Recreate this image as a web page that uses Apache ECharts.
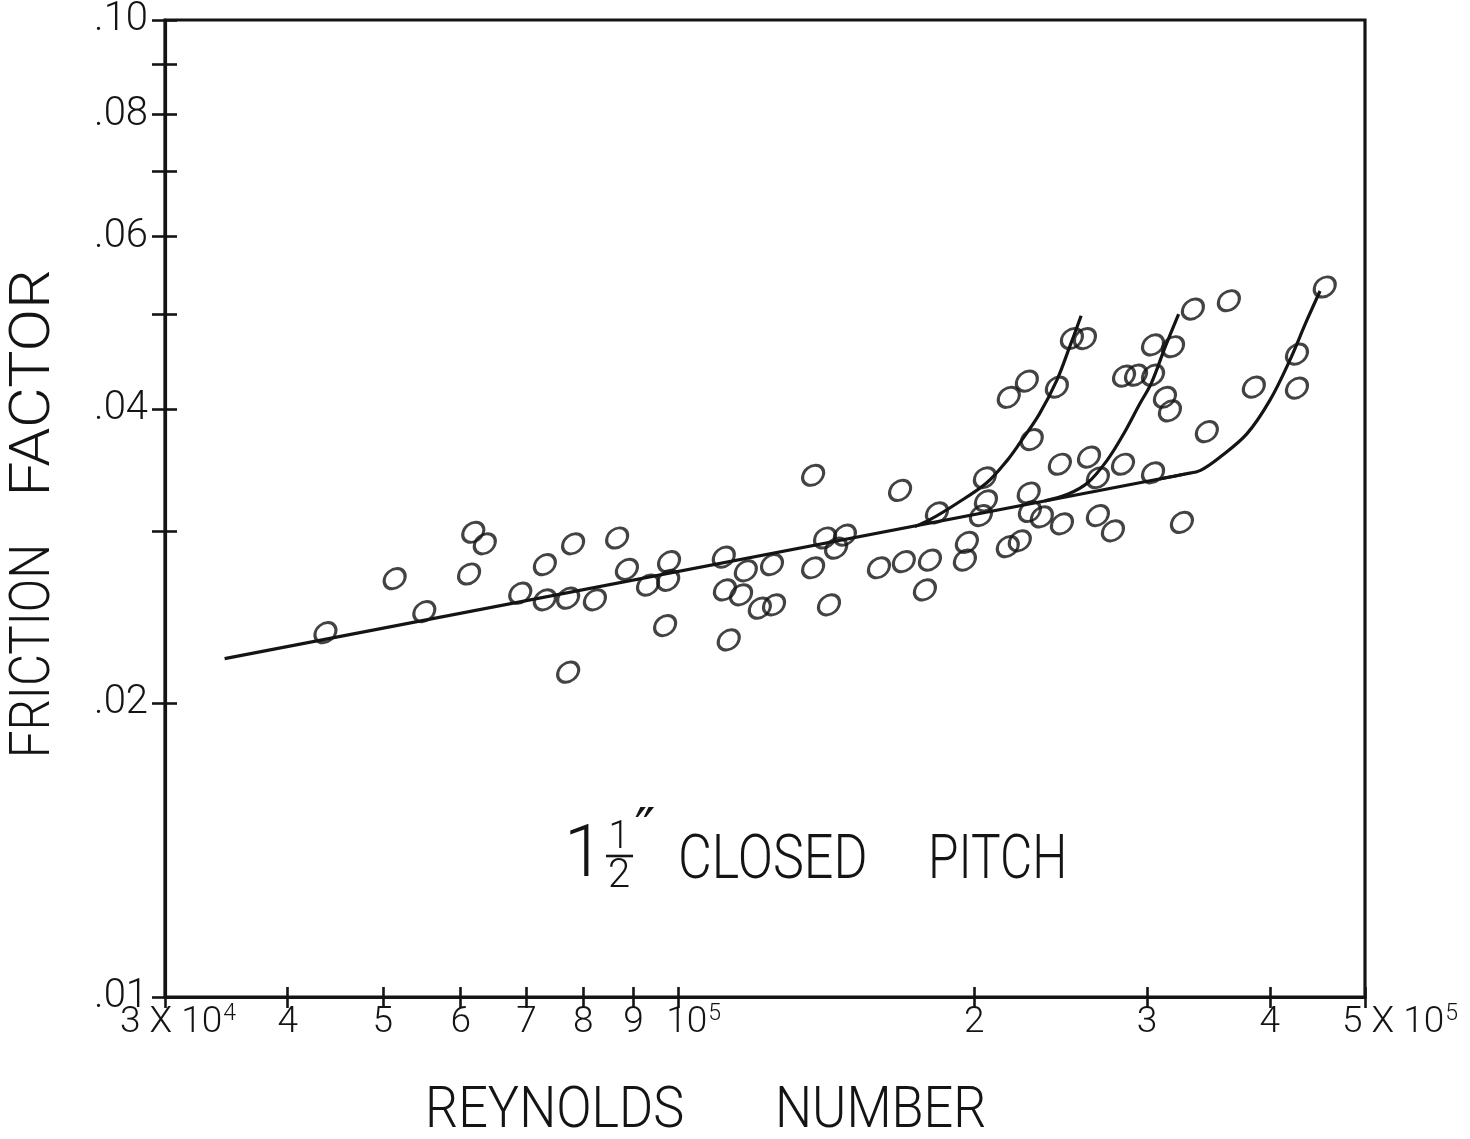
<!DOCTYPE html>
<html><head><meta charset="utf-8">
<script src="https://cdn.jsdelivr.net/npm/echarts@6/dist/echarts.min.js"></script>
<style>html,body{margin:0;padding:0;background:#fff}#c{width:1470px;height:1139px}</style>
</head><body><div id="c"></div>
<script>
// ---- measured points (Reynolds number, friction factor) ----
const reynolds = [43700,51400,55100,61200,61800,63500,69000,73100,78100,73100,77200,82200,77200,86600,88600,97800,93100,97600,96900,
  111200,117100,124500,111500,115800,121000,125100,112500,137100,141000,147700,144700,137100,142300,168100,160000,169600,180300,178200,
  196600,195700,183300,205100,251500,259300,226300,216900,242800,228900,205600,203200,227300,244500,261800,283500,267300,227900,234400,
  245700,267300,276900,216400,222600,284200,292300,304200,304200,318800,312800,316500,455000,363400,334000,385300,426300,426300,345100,
  304200,325500];
const friction = [0.0236,0.0268,0.0248,0.0271,0.0299,0.0291,0.0259,0.0277,0.0291,0.0255,0.0256,0.0255,0.0215,0.0295,0.0274,0.0279,0.0264,0.0267,0.0240,
  0.0282,0.0273,0.0277,0.0261,0.0258,0.0250,0.0252,0.0232,0.0342,0.0295,0.0297,0.0288,0.0275,0.0252,0.0330,0.0275,0.0279,0.0280,0.0261,
  0.0292,0.0280,0.0313,0.0340,0.0472,0.0472,0.0427,0.0411,0.0421,0.0372,0.0322,0.0311,0.0328,0.0351,0.0357,0.0351,0.0340,0.0314,0.0310,
  0.0305,0.0311,0.0300,0.0289,0.0293,0.0432,0.0433,0.0433,0.0465,0.0463,0.0411,0.0398,0.0533,0.0516,0.0506,0.0421,0.0455,0.0420,0.0379,
  0.0344,0.0306];

// ---- drawn curves ----
const mainLineRe = [34500, 328000];
const mainLineF  = [0.0222, 0.0343];
const branch1Re = [174000,180300,192000,206000,216000,222600,233000,242800,250000,257000];
const branch1F  = [0.0303,0.0308,0.0320,0.0336,0.0354,0.0369,0.0395,0.0428,0.0462,0.0498];
const branch2Re = [236000,249000,261000,273000,283500,295000,303000,312800,323000];
const branch2F  = [0.0322,0.0327,0.0336,0.0354,0.0376,0.0405,0.0425,0.0462,0.0500];
const branch3Re = [309000,328000,340000,356000,379000,400000,419000,436000,450000];
const branch3F  = [0.0339,0.0343,0.0346,0.0357,0.0377,0.0408,0.0448,0.0492,0.0528];

// ---- axes ----
const xTicks = [30000,40000,50000,60000,70000,80000,90000,100000,200000,300000,400000,500000];
const xTickBase = ['3 X 10','4','5','6','7','8','9','10','2','3','4','5 X 10'];
const xTickExp  = ['4','','','','','','','5','','','','5'];
const yTicks = [0.01,0.02,0.03,0.04,0.05,0.06,0.07,0.08,0.09,0.10];
const yLabelValues = [0.01,0.02,0.04,0.06,0.08,0.10];
const yLabelTexts = ['.01','.02','.04','.06','.08','.10'];

const FONT = 'Roboto, "DejaVu Sans", sans-serif';
const INK = '#141414';
const L = Math.log10;

function nearestIdx(arr, v) {
  let best = 0, bd = Infinity;
  arr.forEach((a, i) => { const d = Math.abs(L(a) - v); if (d < bd) { bd = d; best = i; } });
  return best;
}
// left padding (px) that nudges a few long labels to the right, as in the drawing
const xPad = {0: 26, 7: 30, 11: 70};
function xFormatter(v) {
  const i = nearestIdx(xTicks, v);
  const pad = xPad[i] ? 'p' + xPad[i] : 'n';
  let s = '{' + pad + '|' + xTickBase[i] + '}';
  if (xTickExp[i]) s += '{sup|' + xTickExp[i] + '}';
  return s;
}
const labelFontBase = {fontSize: 37, fontFamily: FONT, fontWeight: 300, color: INK, lineHeight: 40};
const xRich = {n: Object.assign({}, labelFontBase),
  sup: {fontSize: 23, fontFamily: FONT, fontWeight: 300, color: INK, verticalAlign: 'top', lineHeight: 40, padding: [0, 0, 14, 1]}};
Object.keys(xPad).forEach(k => {
  xRich['p' + xPad[k]] = Object.assign({padding: [0, 0, 0, xPad[k]]}, labelFontBase);
});

const scatterData = reynolds.map((r, i) => [L(r), L(friction[i])]);
const toXY = (re, f) => re.map((r, i) => [L(r), L(f[i])]);

const ellipse = 'path://M0,8 A11,8 0 1,1 22,8 A11,8 0 1,1 0,8 Z';

const lineStyle = {color: INK, width: 3.2};
function curve(name, re, f, smooth) {
  return {name, type: 'line', data: toXY(re, f), showSymbol: false, smooth: smooth,
    lineStyle: lineStyle, z: 2, silent: true};
}

const xMin = L(30000), xMax = L(500000);
const axisLineStyle = {color: INK, width: 3.2};
const lastX = xTicks.length - 1;
const labelCommon = {fontSize: 37, fontFamily: FONT, fontWeight: 300, color: INK, formatter: xFormatter, rich: xRich, margin: 6};

const option = {
  animation: false,
  backgroundColor: '#ffffff',
  grid: {left: 165, right: 105, top: 19, bottom: 142, show: true, borderColor: INK, borderWidth: 3.2, backgroundColor: 'transparent'},
  xAxis: [{
    type: 'value', min: xMin, max: xMax, position: 'bottom',
    axisLine: {show: true, lineStyle: axisLineStyle},
    axisTick: {show: true, inside: false, length: 11, lineStyle: {color: INK, width: 2.6}, customValues: xTicks.map(L)},
    axisLabel: Object.assign({show: true, customValues: xTicks.slice(0, lastX).map(L), showMinLabel: true, showMaxLabel: true}, labelCommon),
    splitLine: {show: false}
  }, {
    type: 'value', min: xMin, max: xMax, position: 'bottom', offset: 0,
    axisLine: {show: false},
    axisTick: {show: true, inside: true, length: 10, lineStyle: {color: INK, width: 2.6}, customValues: xTicks.map(L)},
    axisLabel: Object.assign({show: true, customValues: [L(xTicks[lastX])], showMinLabel: true, showMaxLabel: true}, labelCommon),
    splitLine: {show: false}
  }],
  yAxis: [{
    type: 'value', min: -2, max: -1, position: 'left',
    axisLine: {show: true, lineStyle: axisLineStyle},
    axisTick: {show: true, inside: false, length: 13, lineStyle: {color: INK, width: 2.6}, customValues: yTicks.map(L)},
    axisLabel: {show: true, customValues: yLabelValues.map(L), formatter: v => yLabelTexts[nearestIdx(yLabelValues, v)],
      margin: 17, showMinLabel: true, showMaxLabel: true, fontSize: 40, fontFamily: FONT, fontWeight: 300, color: INK},
    splitLine: {show: false}
  }, {
    type: 'value', min: -2, max: -1, position: 'left', offset: 0,
    axisLine: {show: false},
    axisTick: {show: true, inside: true, length: 12, lineStyle: {color: INK, width: 2.6}, customValues: yTicks.map(L)},
    axisLabel: {show: false}, splitLine: {show: false}
  }],
  series: [
    curve('main', mainLineRe, mainLineF, false),
    curve('branch1', branch1Re, branch1F, 0.35),
    curve('branch2', branch2Re, branch2F, 0.35),
    curve('branch3', branch3Re, branch3F, 0.35),
    {
      name: 'data', type: 'scatter', data: scatterData, symbol: ellipse, symbolSize: [23, 18], symbolRotate: 40,
      itemStyle: {color: 'rgba(0,0,0,0)', borderColor: INK, borderWidth: 3}, z: 3, silent: true
    }
  ],
  graphic: [
    // y-axis title
    {type: 'text', x: 35, y: 651, rotation: Math.PI / 2, scaleX: 0.88,
      style: {text: 'FRICTION', font: '300 56px ' + FONT, fill: INK, textAlign: 'center', textVerticalAlign: 'middle'}},
    {type: 'text', x: 35, y: 383, rotation: Math.PI / 2, scaleX: 1.12,
      style: {text: 'FACTOR', font: '300 56px ' + FONT, fill: INK, textAlign: 'center', textVerticalAlign: 'middle'}},
    // x-axis title
    {type: 'text', x: 425, y: 1112, scaleX: 0.9,
      style: {text: 'REYNOLDS', font: '300 58px ' + FONT, fill: INK, textAlign: 'left', textVerticalAlign: 'middle'}},
    {type: 'text', x: 775, y: 1112, scaleX: 0.9,
      style: {text: 'NUMBER', font: '300 58px ' + FONT, fill: INK, textAlign: 'left', textVerticalAlign: 'middle'}},
    // in-plot label: 1 1/2" CLOSED PITCH
    {type: 'text', x: 584, y: 858,
      style: {text: '1', font: '300 72px ' + FONT, fill: INK, textAlign: 'center', textVerticalAlign: 'middle'}},
    {type: 'text', x: 619, y: 838,
      style: {text: '1', font: '300 38px ' + FONT, fill: INK, textAlign: 'center', textVerticalAlign: 'middle'}},
    {type: 'line', shape: {x1: 606, y1: 856, x2: 633, y2: 856}, style: {stroke: INK, lineWidth: 2.6}},
    {type: 'text', x: 619, y: 877,
      style: {text: '2', font: '300 40px ' + FONT, fill: INK, textAlign: 'center', textVerticalAlign: 'middle'}},
    {type: 'text', x: 645, y: 832,
      style: {text: '″', font: '56px "DejaVu Sans", sans-serif', fill: INK, textAlign: 'center', textVerticalAlign: 'middle'}},
    {type: 'text', x: 678, y: 862, scaleX: 0.84,
      style: {text: 'CLOSED', font: '300 62px ' + FONT, fill: INK, textAlign: 'left', textVerticalAlign: 'middle'}},
    {type: 'text', x: 928, y: 862, scaleX: 0.8,
      style: {text: 'PITCH', font: '300 62px ' + FONT, fill: INK, textAlign: 'left', textVerticalAlign: 'middle'}}
  ]
};

const chart = echarts.init(document.getElementById('c'), null, {renderer: 'canvas'});
chart.setOption(option);
</script>
</body></html>
